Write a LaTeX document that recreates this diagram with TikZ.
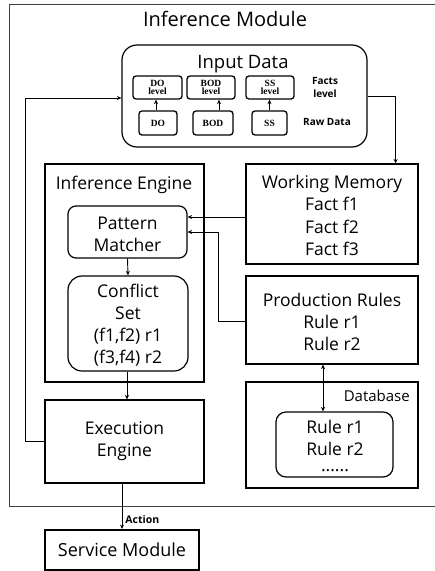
\documentclass[tikz,border=0pt]{standalone}
\usepackage{fontspec}
\setmainfont{Open Sans}
\newfontfamily\smallserif{Liberation Serif}
\usetikzlibrary{arrows.meta,calc}
\begin{document}
\begin{tikzpicture}[x=1pt,y=-1pt,
  arr/.style={-{Stealth[length=4.5pt,width=4pt]},line width=0.9pt},
  darr/.style={{Stealth[length=4.5pt,width=4pt]}-{Stealth[length=4.5pt,width=4pt]},line width=0.9pt},
  mainbox/.style={draw,line width=1.2pt,inner sep=0pt,align=center},
  rbox/.style={mainbox,rounded corners=8pt},
  tinybox/.style={draw,line width=1.3pt,rounded corners=3pt,inner sep=0pt,align=center,
     font=\smallserif\bfseries\fontsize{9.5}{9}\selectfont},
  bigtxt/.style={font=\fontsize{17.5}{22.2}\selectfont,align=center,inner sep=0pt},
  lbl/.style={font=\bfseries\fontsize{10}{13}\selectfont,align=center,inner sep=0pt}
]
\useasboundingbox (0,0) rectangle (435,571);
% outer frame (open on the right)
\draw[line width=1pt,draw=black!75] (435,4) -- (9,4) -- (9,506) -- (435,506);
\node[inner sep=0pt,font=\fontsize{20}{22}\selectfont] (title) at (225,19) {Inference Module};

% input data
\node[mainbox,rounded corners=15pt,minimum width=245pt,minimum height=102pt] (input) at (244.5,96) {};
\node[inner sep=0pt,font=\fontsize{18.5}{20}\selectfont] (inputlbl) at (243,64) {Input Data};
\node[tinybox,minimum width=49pt,minimum height=23pt] (dolvl) at (157.5,87.5) {DO\\[-1pt]level};
\node[tinybox,minimum width=48pt,minimum height=23pt] (bodlvl) at (211,87.5) {BOD\\[-1pt]level};
\node[tinybox,minimum width=48pt,minimum height=23pt] (sslvl) at (270,87.5) {SS\\[-1pt]level};
\node[tinybox,minimum width=38pt,minimum height=24pt] (do) at (158,123) {DO};
\node[tinybox,minimum width=40pt,minimum height=24pt] (bod) at (213,123) {BOD};
\node[tinybox,minimum width=35pt,minimum height=24pt] (ss) at (269.5,123) {SS};
\node[lbl] (facts) at (325,87) {Facts\\level};
\node[lbl] (raw) at (327,122) {Raw Data};
\draw[arr] ([xshift=-2pt]do.north) -- ([xshift=-2pt]do.north |- dolvl.south);
\draw[arr] ([xshift=6pt]bod.north) -- ([xshift=6pt]bod.north |- bodlvl.south);
\draw[arr] (ss.north) -- (ss.north |- sslvl.south);

% inference engine
\node[mainbox,minimum width=159pt,minimum height=218pt] (ie) at (124.5,273) {};
\node[inner sep=0pt,font=\fontsize{17.5}{20}\selectfont] (ielbl) at (124,185) {Inference Engine};
\node[rbox,minimum width=119pt,minimum height=52pt] (pm) at (127.5,232) {};
\node[bigtxt] (pmtxt) at (127.5,234) {Pattern\\Matcher};
\node[rbox,rounded corners=14pt,minimum width=120pt,minimum height=95pt] (cs) at (128,323.5) {};
\node[bigtxt] (cstxt) at (128,325) {Conflict\\Set\\(f1,f2) r1\\(f3,f4) r2};

% working memory
\node[mainbox,minimum width=172pt,minimum height=100pt] (wm) at (332,214) {};
\node[bigtxt] (wmtxt) at (332,215.5) {Working Memory\\Fact f1\\Fact f2\\Fact f3};

% production rules
\node[mainbox,minimum width=172pt,minimum height=88pt] (pr) at (332,320) {};
\node[bigtxt] (prtxt) at (332,322) {Production Rules\\Rule r1\\Rule r2};

% database
\node[mainbox,minimum width=172pt,minimum height=106pt] (db) at (332,435) {};
\node[inner sep=0pt,anchor=east,font=\fontsize{15}{17}\selectfont] (dblbl) at (410,396) {Database};
\node[rbox,rounded corners=10pt,minimum width=117pt,minimum height=65pt] (rules) at (334.5,444.5) {};
\node[bigtxt] (rulestxt) at (335,446) {Rule r1\\Rule r2\\[-6pt]......};

% execution engine
\node[mainbox,minimum width=159pt,minimum height=83pt] (ee) at (124.5,441.5) {};
\node[bigtxt] (eetxt) at (ee.center) {Execution\\Engine};

% service module
\node[draw,line width=2pt,inner sep=0pt,minimum width=154pt,minimum height=40pt,
  font=\fontsize{18}{20}\selectfont] (sm) at (122,550) {Service Module};

% connectors
\draw[arr] (input.east) -| ([xshift=-23pt]wm.north east);
\draw[arr] (ee.west) -- ++(-19,0) |- ([yshift=-2pt]input.west);
\draw[arr] ([yshift=-3pt]wm.west) -- ([yshift=15pt]pm.east);
\draw[arr] ([yshift=-1pt]pr.west) -| ([xshift=31pt]pm.east) -- (pm.east);
\draw[arr] (pm.south) -- (cs.north);
\draw[arr] ([xshift=-1pt]cs.south) -- ([xshift=-1pt]cs.south |- ee.north);
\draw[darr] ([xshift=-9pt]pr.south) -- ([xshift=-9pt]pr.south |- rules.north);
\draw[arr] (ee.south -| sm.north) -- node[right,pos=0.8,font=\bfseries\fontsize{10.5}{12}\selectfont,inner sep=3pt] (action) {Action} (sm.north);
\end{tikzpicture}
\end{document}
